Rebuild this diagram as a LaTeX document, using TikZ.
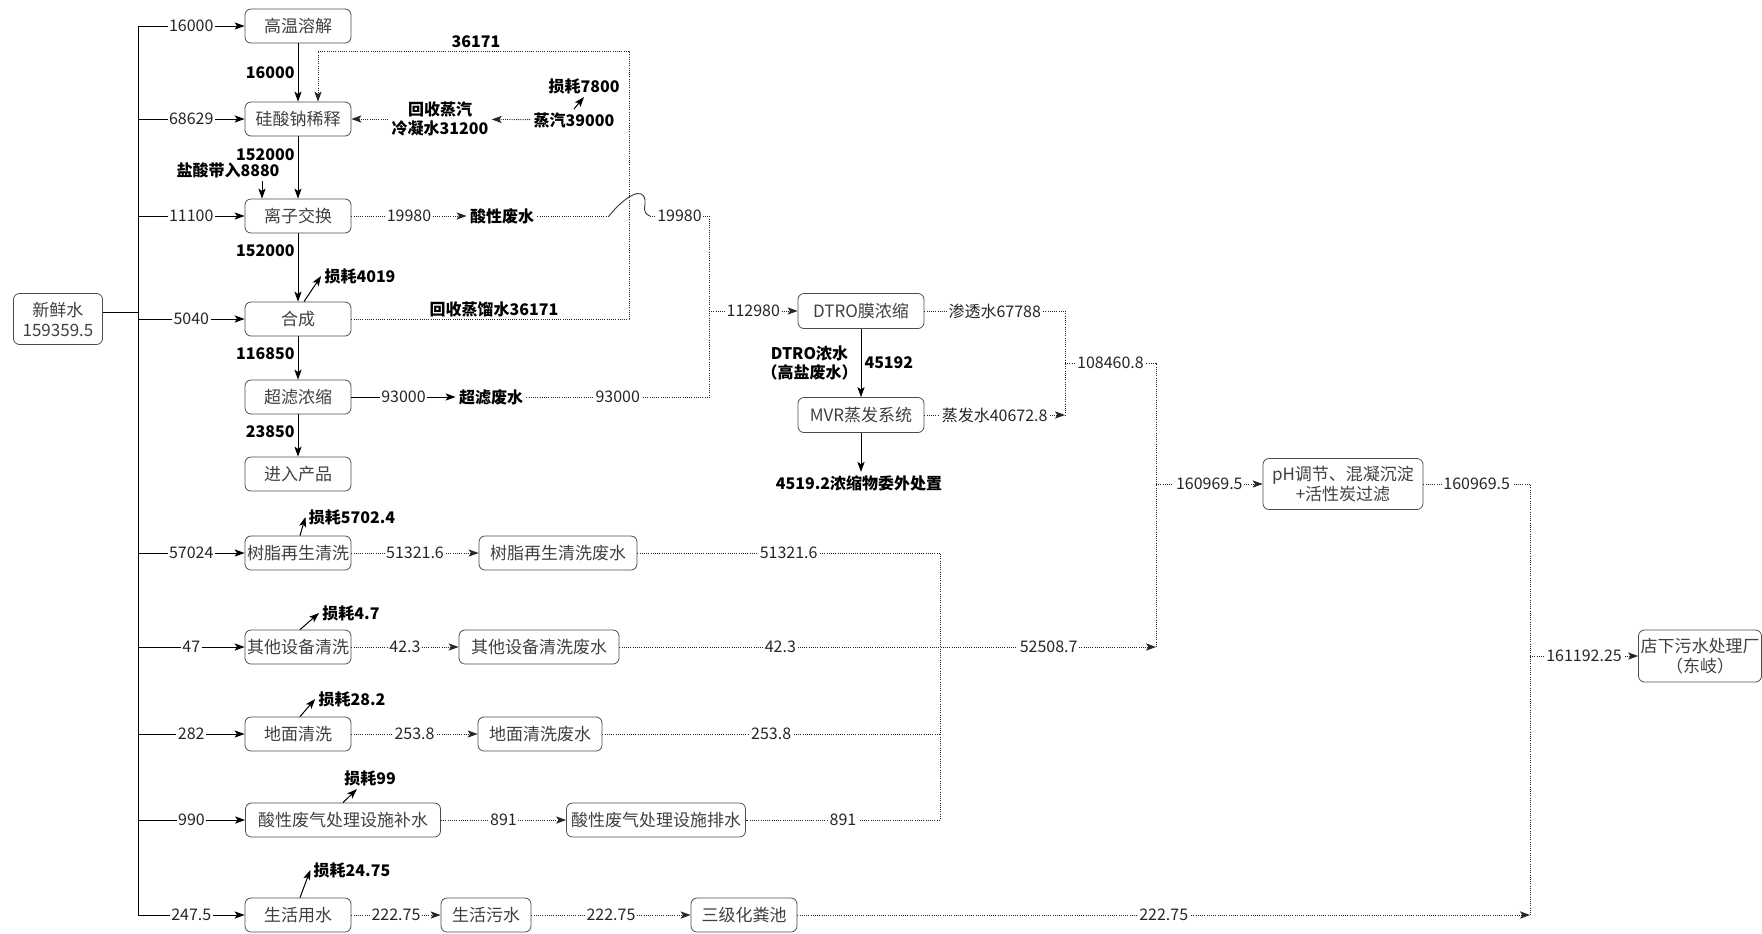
\documentclass[tikz,border=0pt]{standalone}
\usepackage{fontspec}
\setmainfont{Noto Sans CJK SC}
\usetikzlibrary{
    arrows.meta,
    calc
}
\tikzset {
    process/.style = {draw = black!70, rounded corners = 3pt, inner sep = 1pt,
        minimum height = 17pt, text = black!75, align = center,
        font = \fontsize{8.5}{10}\selectfont},
    fresh line/.style = {draw = black, line width = 0.5pt},
    waste line/.style = {draw = black!85, line width = 0.45pt, dash pattern = on 0.5pt off 0.6pt},
    hop line/.style = {draw = black!80, line width = 0.45pt},
    flow/.style = {arrows = {-Stealth[length = 5pt, width = 3.6pt, inset = 1.2pt]}},
    num/.style = {fill = white, inner sep = 0.8pt, text = black!85,
        font = \fontsize{8}{9}\selectfont},
    bold label/.style = {inner sep = 1.5pt, align = center,
        font = \bfseries\fontsize{8}{9.5}\selectfont},
}

\begin{document}
\begin{tikzpicture}[x = 0.5pt, y = -0.5pt]
    \useasboundingbox (0, 0) rectangle (1762, 933);
    \coordinate (trunk) at (138, 0);
    % process units
    \node (fresh) [process, minimum width = 44.5pt, minimum height = 25.5pt] at (58, 319) {新鲜水\\159359.5};
    \node (gw) [process, minimum width = 53pt] at (298, 26) {高温溶解};
    \node (gs) [process, minimum width = 53pt] at (298, 119) {硅酸钠稀释};
    \node (lz) [process, minimum width = 53pt] at (298, 216) {离子交换};
    \node (hc) [process, minimum width = 53pt] at (298, 319) {合成};
    \node (cl) [process, minimum width = 53pt] at (298, 397) {超滤浓缩};
    \node (cp) [process, minimum width = 53pt] at (298, 474) {进入产品};
    \node (sz) [process, minimum width = 53pt] at (298, 553) {树脂再生清洗};
    \node (qt) [process, minimum width = 53pt] at (298, 647) {其他设备清洗};
    \node (dm) [process, minimum width = 53pt] at (298, 734) {地面清洗};
    \node (sx) [process, minimum width = 97.5pt] at (343, 820) {酸性废气处理设施补水};
    \node (sh) [process, minimum width = 53pt] at (298, 915) {生活用水};
    \node (wf) [process, minimum width = 79pt] at (558, 553) {树脂再生清洗废水};
    \node (qf) [process, minimum width = 80pt] at (539, 647) {其他设备清洗废水};
    \node (df) [process, minimum width = 62pt] at (540, 734) {地面清洗废水};
    \node (sp) [process, minimum width = 89.5pt] at (656, 820) {酸性废气处理设施排水};
    \node (shw) [process, minimum width = 45pt] at (486, 915) {生活污水};
    \node (hf) [process, minimum width = 53pt] at (744, 915) {三级化粪池};
    \node (dt) [process, minimum width = 63pt, minimum height = 17.5pt] at (861, 311) {DTRO膜浓缩};
    \node (mv) [process, minimum width = 63pt, minimum height = 17.5pt] at (861, 415) {MVR蒸发系统};
    \node (ph) [process, minimum width = 80pt, minimum height = 25.5pt] at (1343, 484) {pH调节、混凝沉淀\\+活性炭过滤};
    \node (dx) [process, minimum width = 61.5pt, minimum height = 26pt] at (1700, 656) {店下污水处理厂\\（东岐）};

    % free labels
    \node (rz) [bold label] at (476, 42) {36171};
    \node (rh) [bold label] at (494, 309) {回收蒸馏水36171};
    \node (zq) [bold label] at (574, 120) {蒸汽39000};
    \node (hs) [bold label] at (440, 119) {回收蒸汽\\冷凝水31200};
    \node (ys) [bold label] at (228, 170) {盐酸带入8880};
    \node (sw) [bold label] at (502, 216) {酸性废水};
    \node (cf) [bold label] at (491, 397) {超滤废水};
    \node (ws) [bold label] at (859, 483) {4519.2浓缩物委外处置};
    \node (l0) [bold label] at (584, 86) {损耗7800};
    \node (l1) [bold label] at (360, 276) {损耗4019};
    \node (l2) [bold label] at (352, 517) {损耗5702.4};
    \node (l3) [bold label] at (351, 613) {损耗4.7};
    \node (l4) [bold label] at (352, 699) {损耗28.2};
    \node (l5) [bold label] at (370, 778) {损耗99};
    \node (l6) [bold label] at (352, 870) {损耗24.75};

    % junctions of the waste water lines
    \coordinate (loop) at (629, 51);
    \coordinate (h1) at (609, 216);
    \coordinate (h2) at (650, 216);
    \coordinate (j1) at (709, 216);
    \coordinate (j2) at (709, 397);
    \coordinate (j3) at (1065, 311);
    \coordinate (j4) at (1065, 415);
    \coordinate (j5) at (1065, 363);
    \coordinate (j6) at (1156, 363);
    \coordinate (j7) at (1156, 647);
    \coordinate (k1) at (940, 553);
    \coordinate (k2) at (940, 820);
    \coordinate (m1) at (1530, 484);
    \coordinate (m2) at (1530, 915);

    % fresh water supply
    \draw [fresh line] ([yshift = 3.5pt] fresh.east) -- ++(36, 0);
    \draw [fresh line] (trunk |- gw) -- (trunk |- sh);
    \draw [fresh line, flow] (trunk |- gw) -- node [num] {16000} (gw);
    \draw [fresh line, flow] (trunk |- gs) -- node [num] {68629} (gs);
    \draw [fresh line, flow] (trunk |- lz) -- node [num] {11100} (lz);
    \draw [fresh line, flow] (trunk |- hc) -- node [num] {5040} (hc);
    \draw [fresh line, flow] (trunk |- sz) -- node [num] {57024} (sz);
    \draw [fresh line, flow] (trunk |- qt) -- node [num] {47} (qt);
    \draw [fresh line, flow] (trunk |- dm) -- node [num] {282} (dm);
    \draw [fresh line, flow] (trunk |- sx) -- node [num] {990} (sx.west);
    \draw [fresh line, flow] (trunk |- sh) -- node [num] {247.5} (sh);

    % main process chain
    \draw [fresh line, flow] (gw) -- node [bold label, left] {16000} (gs);
    \draw [fresh line, flow] (gs) -- node [bold label, left, pos = .3] {152000} (lz);
    \draw [fresh line, flow] (lz) -- node [bold label, left, pos = .25] {152000} (hc);
    \draw [fresh line, flow] (hc) -- node [bold label, left, pos = .4] {116850} (cl);
    \draw [fresh line, flow] (cl) -- node [bold label, left, pos = .4] {23850} (cp);
    \draw [fresh line, flow] ([xshift = 17pt] ys.south) -- ([xshift = -18pt] lz.north);

    % recovered distillate and steam
    \draw [waste line, flow] (hc.east) -| (loop) -| ([xshift = 10pt] gs.north);
    \draw [waste line, flow] (zq) -- (hs);
    \draw [waste line, flow] (hs) -- (gs);
    \draw [fresh line, flow] (zq.north) -- (l0.south);

    % acid and ultrafiltration waste water
    \draw [waste line, flow] (lz) -- node [num] {19980} (sw);
    \draw [waste line] (sw) -- (h1);
    \draw [hop line] (h1) .. controls (625, 196) and (643, 186) .. (645, 200)
        .. controls (646, 207) and (641, 212) .. (h2);
    \draw [waste line] (h2) -- node [num] {19980} (j1) -- (j2);
    \draw [fresh line, flow] (cl) -- node [num] {93000} (cf);
    \draw [waste line] (cf) -- node [num] {93000} (j2);
    \draw [waste line, flow] (j1 |- dt) -- node [num] {112980} (dt);

    % DTRO and MVR
    \draw [fresh line, flow] (dt) -- node [bold label, left] {DTRO浓水\\（高盐废水）}
        node [bold label, right] {45192} (mv);
    \draw [fresh line, flow] (mv) -- (mv |- ws.north);
    \draw [waste line] (dt) -- node [num] {渗透水67788} (j3) -- (j4);
    \draw [waste line, flow] (mv) -- node [num] {蒸发水40672.8} (j4);
    \draw [waste line] (j5) -- node [num] {108460.8} (j6) -- (j7);
    \draw [waste line, flow] (j6 |- ph) -- node [num] {160969.5} (ph);

    % cleaning waste water
    \draw [waste line, flow] (sz) -- node [num] {51321.6} (wf);
    \draw [waste line, flow] (qt) -- node [num] {42.3} (qf);
    \draw [waste line, flow] (dm) -- node [num] {253.8} (df);
    \draw [waste line, flow] (sx) -- node [num] {891} (sp);
    \draw [waste line] (wf) -- node [num] {51321.6} (k1) -- (k2) -- node [num] {891} (sp);
    \draw [waste line] (df) -- node [num] {253.8} (k1 |- df);
    \draw [waste line, flow] (qf) -- node [num, pos = .3] {42.3} node [num, pos = .8] {52508.7} (j7);

    % domestic sewage
    \draw [waste line, flow] (sh) -- node [num] {222.75} (shw);
    \draw [waste line, flow] (shw) -- node [num] {222.75} (hf);
    \draw [waste line, flow] (hf) -- node [num] {222.75} (m2);
    \draw [waste line] (ph) -- node [num] {160969.5} (m1) -- (m2);
    \draw [waste line, flow] (m1 |- dx) -- node [num] {161192.25} (dx);

    % losses
    \draw [fresh line, flow] ([xshift = 3pt] hc.north) -- (l1.west);
    \draw [fresh line, flow] ([xshift = 1pt] sz.north) -- (l2.west);
    \draw [fresh line, flow] ([xshift = 1pt] qt.north) -- (l3.west);
    \draw [fresh line, flow] ([xshift = 1pt] dm.north) -- (l4.west);
    \draw [fresh line, flow] (sx.north) -- ([xshift = 8pt] l5.south west);
    \draw [fresh line, flow] ([xshift = 1pt] sh.north) -- (l6.west);
\end{tikzpicture}
\end{document}
